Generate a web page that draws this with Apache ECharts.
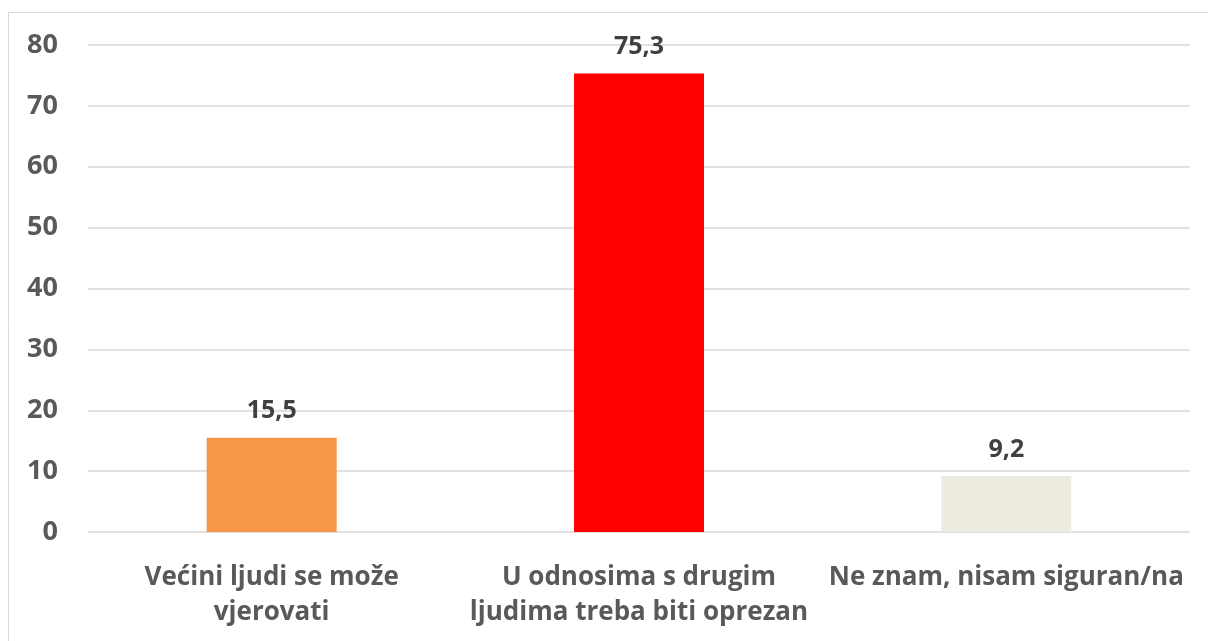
<!DOCTYPE html>
<html>
<head>
<meta charset="utf-8">
<script src="https://cdn.jsdelivr.net/npm/echarts@6/dist/echarts.min.js"></script>
<style>
  html, body { margin: 0; padding: 0; background: #fff; }
  #chart { width: 1208px; height: 641px; }
</style>
</head>
<body>
<div id="chart"></div>
<script>
const categories = ["Većini ljudi se može\nvjerovati", "U odnosima s drugim\nljudima treba biti oprezan", "Ne znam, nisam siguran/na"];
const values = [15.5, 75.3, 9.2];
const barColors = ["#F79646", "#FF0000", "#EEECE1"];

const chart = echarts.init(document.getElementById("chart"));
const font = "'Open Sans', 'Noto Sans', sans-serif";

chart.setOption({
  animation: false,
  graphic: [{
    type: "rect",
    shape: { x: 8.5, y: 12.5, width: 1220, height: 660 },
    style: { fill: "none", stroke: "#d9d9d9", lineWidth: 1 },
    silent: true
  }],
  grid: { left: 88, right: 18, top: 45, bottom: 109 },
  xAxis: {
    type: "category",
    data: categories,
    axisLine: { show: false },
    axisTick: { show: false },
    axisLabel: {
      margin: 28,
      color: "#595959",
      fontFamily: font,
      fontWeight: "bold",
      fontSize: 26,
      lineHeight: 35,
      interval: 0
    }
  },
  yAxis: {
    type: "value",
    min: 0,
    max: 80,
    interval: 10,
    axisLine: { show: false },
    axisTick: { show: false },
    splitLine: { lineStyle: { color: "#d9d9d9", width: 1.5 } },
    axisLabel: {
      margin: 30,
      color: "#595959",
      fontFamily: font,
      fontWeight: "bold",
      fontSize: 27
    }
  },
  series: [{
    type: "bar",
    barWidth: 130,
    data: values.map((v, i) => ({ value: v, itemStyle: { color: barColors[i] } })),
    label: {
      show: true,
      position: "top",
      distance: 14,
      color: "#404040",
      fontFamily: font,
      fontWeight: "bold",
      fontSize: 25,
      formatter: p => String(p.value).replace(".", ",")
    }
  }]
});
</script>
</body>
</html>
